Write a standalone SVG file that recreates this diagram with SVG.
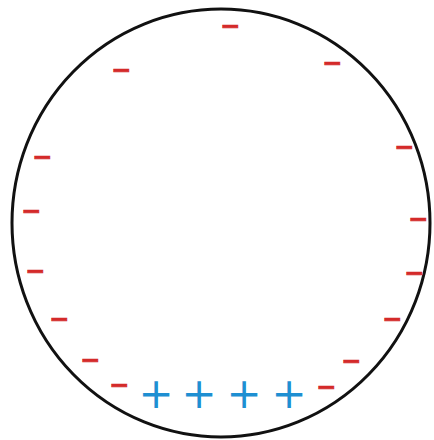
<svg xmlns="http://www.w3.org/2000/svg" width="434" height="440" viewBox="0 0 434 440">
<style>
.neg{font-family:"DejaVu Sans",sans-serif;font-weight:bold;font-size:24px;fill:#d42a2a;stroke:#d42a2a;stroke-width:0.8;text-anchor:middle}
.pos{font-family:"DejaVu Sans",sans-serif;font-size:42px;fill:#1e8fd2;text-anchor:middle}
</style>
<rect width="434" height="440" fill="#fff"/>
<g id="sphere">
<ellipse cx="221" cy="223" rx="209" ry="214" fill="none" stroke="#111" stroke-width="3"/>
</g>
<g id="negative-charges">
<text class="neg" x="230" y="34">−</text>
<text class="neg" x="121" y="78">−</text>
<text class="neg" x="332" y="71">−</text>
<text class="neg" x="42" y="165">−</text>
<text class="neg" x="31" y="219">−</text>
<text class="neg" x="404" y="155">−</text>
<text class="neg" x="418" y="227">−</text>
<text class="neg" x="35" y="279">−</text>
<text class="neg" x="59" y="327">−</text>
<text class="neg" x="90" y="368">−</text>
<text class="neg" x="119" y="393">−</text>
<text class="neg" x="414" y="281">−</text>
<text class="neg" x="392" y="327">−</text>
<text class="neg" x="351" y="369">−</text>
<text class="neg" x="326" y="395">−</text>
</g>
<g id="positive-charges">
<text class="pos" x="156" y="408">+</text>
<text class="pos" x="199" y="408">+</text>
<text class="pos" x="244" y="408">+</text>
<text class="pos" x="289" y="408">+</text>
</g>
</svg>
